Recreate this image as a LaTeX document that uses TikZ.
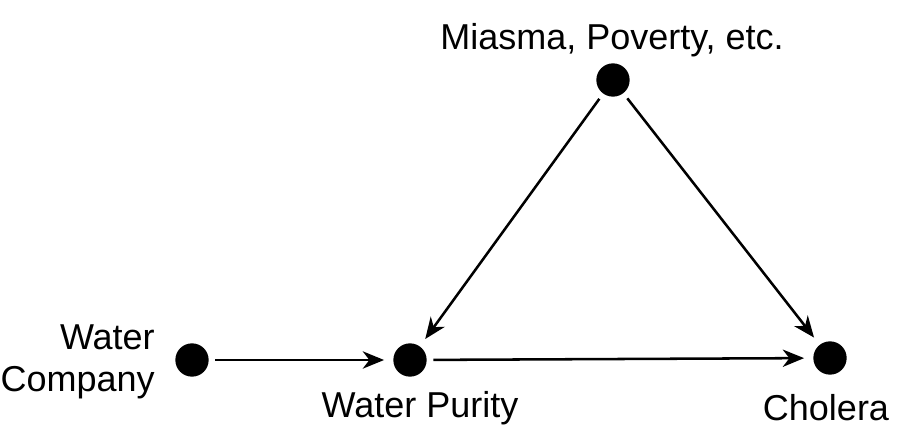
\documentclass[tikz,border=0pt]{standalone}
\usepackage{fontspec}
\setmainfont{Liberation Sans}
\usetikzlibrary{arrows.meta}
\tikzset{every picture/.style={line width=1.9pt}}
\tikzset{
  dot/.style={circle,fill=black,inner sep=0pt,minimum size=25pt},
  lbl/.style={inner sep=0.75pt,font=\fontsize{27}{32}\selectfont},
  causal/.style={-{Stealth[length=16pt,width=13pt,inset=5pt]},shorten <=4pt,shorten >=6pt}
}
\begin{document}
\begin{tikzpicture}[x=0.75pt,y=0.75pt,yscale=-1,xscale=1]
\useasboundingbox (0,0) rectangle (924,446);

% Dots
\node [dot] (miasma) at (613,80) {};
\node [dot] (company) at (192,360) {};
\node [dot] (purity) at (410,360) {};
\node [dot] (cholera) at (830,358) {};

% Text Nodes
\node [lbl] (tmiasma) at (612,40) {Miasma, Poverty, etc.};
\node [lbl,align=right,anchor=east] (tcompany) at (157,362) {Water\\Company};
\node [lbl] (tpurity) at (420,408) {Water Purity};
\node [lbl] (tcholera) at (826,408) {Cholera};

% Straight Lines
\draw [causal] (company) -- (purity);
\draw [causal] (purity) -- (cholera);
\draw [causal] (miasma) -- (purity);
\draw [causal] (miasma) -- (cholera);

\end{tikzpicture}
\end{document}
